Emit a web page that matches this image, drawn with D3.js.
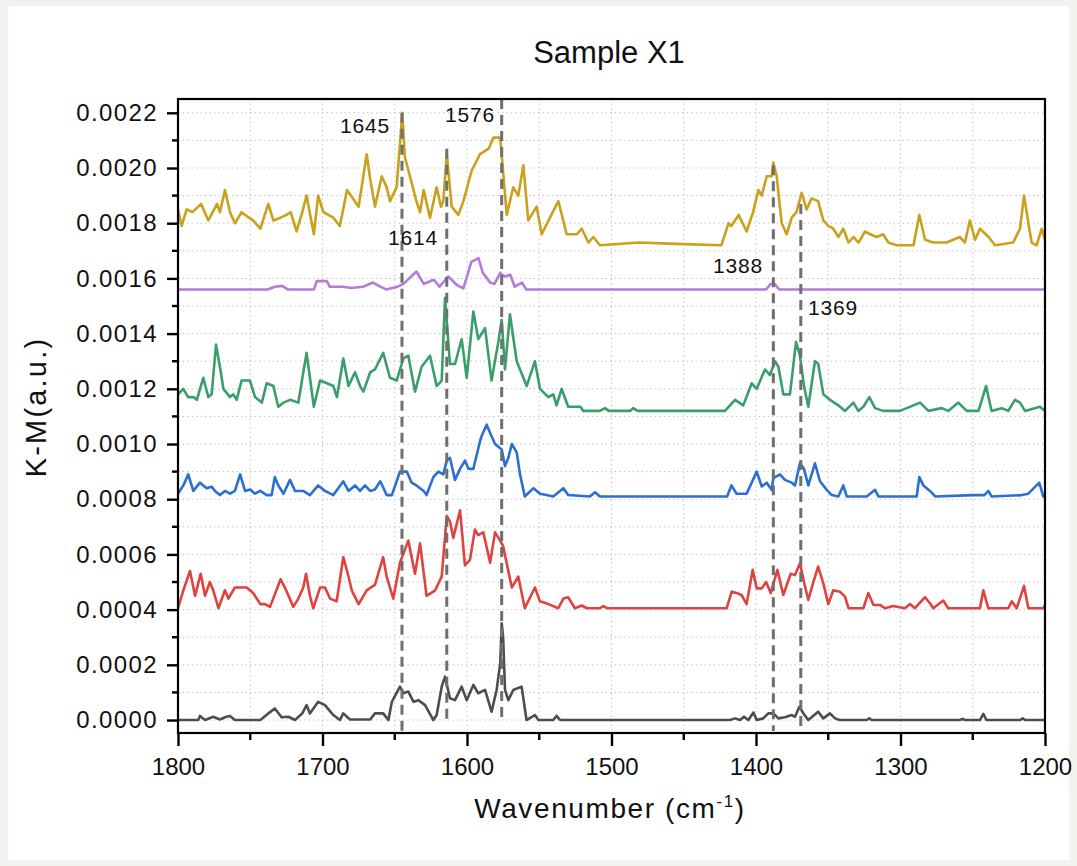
<!DOCTYPE html>
<html lang="en">
<head>
    <meta charset="UTF-8">
    <title>Sample X1</title>
    <script src="https://d3js.org/d3.v7.min.js"></script>
    <style>
        body, html {
            margin: 0;
            padding: 0;
            background: #f3f2ee;
        }
        svg {
            display: block;
        }
        text {
            font-family: "Liberation Sans", Arial, sans-serif;
            fill: #111;
        }
    </style>
</head>
<body>
    <script>
        const width = 1077;
        const height = 866;

        // spectra: [wavenumber, K-M value]
        const goldPts = [
            [1800, .00185], [1797.5, .00179], [1794, .00185], [1790, .00184], [1784, .00187], [1779, .00181],
            [1773, .00187], [1771, .00184], [1767.5, .00192], [1764, .00184], [1760.6, .0018], [1756, .00184],
            [1751, .00182], [1748, .00181], [1743, .00178], [1737.5, .00187], [1734, .00181], [1729, .00182],
            [1725, .00183], [1722, .00184], [1718, .00177], [1714, .00184], [1711, .0019], [1706, .00176],
            [1703, .0019], [1699.4, .00184], [1692.5, .00182], [1688, .00179], [1683, .00192], [1675, .00186],
            [1669.4, .00205], [1667, .00196], [1663.7, .00186], [1659, .00197], [1655.6, .00193], [1653.3, .00188],
            [1648.7, .00193], [1644.8, .0022], [1643, .00204], [1635, .00188], [1632.5, .00184], [1630, .00192],
            [1625.6, .00182], [1621, .00193], [1618, .00186], [1616.4, .00188], [1614, .00205], [1610.6, .00186],
            [1606, .00183], [1602.5, .00188], [1596.8, .00199], [1591, .00205], [1585, .00207], [1581.8, .00211],
            [1577, .00211], [1572.5, .00183], [1568, .00193], [1564.5, .0019], [1561, .00201], [1557.6, .00181],
            [1551.8, .00186], [1548.3, .00176], [1542.6, .00182], [1536.8, .00188], [1531, .00176], [1524, .00176],
            [1520.6, .00178], [1516, .00173], [1512.6, .00175], [1508, .00172], [1481, .00173], [1455, .001725],
            [1424, .00172], [1419, .0018], [1417, .00179], [1412, .00183], [1406.5, .00177], [1402, .00184],
            [1398.4, .00192], [1396, .0019], [1392.6, .00197], [1389.2, .00197], [1388, .00202], [1385.7, .00197],
            [1382.2, .0018], [1378.8, .00176], [1375.3, .00182], [1372, .00184], [1368.4, .00191], [1365, .00185],
            [1361.5, .00189], [1357, .00188], [1353.4, .00181], [1350, .00179], [1346.5, .00178], [1343, .00175],
            [1339.6, .00178], [1336, .00173], [1332.6, .00175], [1329, .00173], [1324.6, .00177], [1321, .00176],
            [1316.5, .00175], [1312, .00176], [1308.4, .00173], [1302.6, .00172], [1291, .00172], [1287, .00183],
            [1283, .00174], [1277.3, .00173], [1268, .00173], [1259, .00175], [1255.4, .00173], [1252, .00181],
            [1248.4, .00174], [1245, .00178], [1239, .00175], [1234.6, .00172], [1222, .00173], [1217.3, .00178],
            [1214.5, .0019], [1211.5, .0018], [1209.2, .00173], [1205.8, .00172], [1202.3, .00178], [1200, .00174]
        ];

        const purplePts = [
            [1800, .00156], [1738, .00156], [1733, .00157], [1728, .001573], [1724, .00156], [1706, .00156],
            [1704, .00159], [1697, .00159], [1695, .00157], [1686, .00157], [1680, .001565], [1672, .00157],
            [1665, .001585], [1660, .00157], [1656, .00156], [1648, .00157], [1644, .00158], [1640, .0016],
            [1635, .001625], [1630, .00158], [1623, .001595], [1619, .00157], [1613, .001607], [1607, .001576],
            [1602.5, .001564], [1597, .00166], [1592, .001673], [1589, .00162], [1584, .001585], [1581, .00158],
            [1577, .00162], [1574, .001607], [1570, .001613], [1567, .00157], [1562, .001585], [1559, .00156],
            [1393, .00156], [1390, .00158], [1387, .00158], [1384, .00156], [1200, .00156]
        ];

        const greenPts = [
            [1800, .00118], [1796.3, .0012], [1793, .00117], [1789.4, .00117], [1787, .00116], [1782.5, .00124],
            [1779, .00117], [1776.7, .00118], [1773.7, .00136], [1771, .00128], [1768.6, .0012], [1764, .00117],
            [1761.7, .00118], [1759.4, .00116], [1756, .00123], [1750.2, .00123], [1746.7, .00117], [1742, .00115],
            [1738.6, .00122], [1734, .00121], [1730.6, .001135], [1727, .00115], [1722.5, .00116], [1716.7, .00115],
            [1713.3, .00126], [1711, .00133], [1708.7, .00124], [1706, .001135], [1701.7, .00123], [1697, .00122],
            [1692.5, .00121], [1690, .00117], [1685.6, .00131], [1682, .00121], [1677.5, .00126], [1674, .00121],
            [1671.7, .00119], [1667, .00126], [1663.7, .00127], [1658, .00133], [1653.3, .00124], [1648.7, .00123],
            [1644, .00131], [1640.6, .00132], [1636, .00119], [1631.4, .00128], [1625.6, .00132], [1621, .00121],
            [1617.5, .00123], [1615.2, .00153], [1611.8, .00129], [1608.3, .00129], [1603.7, .00138], [1600.2, .00124],
            [1595.6, .00148], [1592.2, .00138], [1587.5, .00142], [1583, .00123], [1578.3, .00137], [1576, .00145],
            [1573.7, .00127], [1570.3, .00147], [1565.6, .0013], [1558.7, .00121], [1553, .0013], [1549.5, .0012],
            [1543.7, .00117], [1540.3, .00118], [1538, .00114], [1534.5, .0012], [1530, .001135], [1521.5, .001135],
            [1519.5, .00112], [1508, .00112], [1504.5, .00113], [1502, .00112], [1487, .00112], [1485, .00113],
            [1482, .00112], [1421.5, .00112], [1414.5, .00116], [1408.8, .00114], [1403, .00122], [1399.5, .0012],
            [1393.8, .00127], [1390.3, .00125], [1386.9, .0013], [1384.5, .00128], [1381.1, .00118], [1376.5, .00118],
            [1372.3, .00137], [1369.6, .00132], [1366.8, .00121], [1363.8, .001135], [1359.2, .0013], [1356.9, .00129],
            [1353.4, .00118], [1348.8, .00116], [1343, .00114], [1338.4, .00112], [1332.6, .00115], [1329.2, .00112],
            [1325.7, .001135], [1321.6, .00117], [1317.6, .00113], [1312, .00112], [1300.3, .00112], [1286.5, .00115],
            [1280.7, .00112], [1271.5, .00113], [1267, .00112], [1260, .00115], [1254.2, .00112], [1246, .00112],
            [1240.8, .00121], [1237, .00112], [1230, .00113], [1225.4, .00112], [1220.8, .00116], [1217.3, .00115],
            [1213.8, .00112], [1203.5, .001135], [1200, .00112]
        ];

        const bluePts = [
            [1800, .00082], [1796.3, .00085], [1792.9, .00089], [1789.4, .00083], [1784.8, .00086], [1780.2, .00084],
            [1776.7, .000845], [1774.4, .00083], [1771, .000815], [1767.5, .00083], [1764, .00082], [1760.6, .00083],
            [1757, .00089], [1753.6, .00083], [1750, .000835], [1746.7, .00082], [1743, .00083], [1738.6, .000815],
            [1735.2, .000815], [1733, .00088], [1730.6, .00085], [1727, .00082], [1722.5, .00087], [1719, .00083],
            [1713.3, .00083], [1708.7, .000815], [1703, .00085], [1698.3, .00083], [1692.5, .000815], [1685.6, .000865],
            [1682, .00083], [1677.5, .00085], [1674, .00083], [1670.6, .00085], [1667, .00083], [1663.7, .000835],
            [1660, .000865], [1655.6, .000815], [1652, .000815], [1646.4, .0009], [1641.7, .0009], [1638.3, .00086],
            [1635, .00085], [1630, .00083], [1628, .000815], [1623.3, .00088], [1619.8, .0009], [1616.4, .00089],
            [1614, .00094], [1611.8, .00095], [1608.3, .00087], [1604.8, .00091], [1601.4, .00094], [1599, .00091],
            [1595.6, .00091], [1593.3, .00096], [1591, .00101], [1589.8, .00103], [1586.4, .00107], [1584, .00104],
            [1580.6, .001], [1576, .00098], [1573.7, .00092], [1571.4, .00095], [1569, .001], [1565.6, .00097],
            [1563.3, .00089], [1560, .00081], [1554, .00084], [1549.5, .00082], [1545, .000815], [1540.3, .00081],
            [1533.3, .00084], [1530, .000815], [1515, .00081], [1511.4, .000825], [1508, .00081], [1420, .00081],
            [1417, .00085], [1413.4, .00082], [1406.5, .00082], [1399.5, .0009], [1396, .000846], [1392.6, .00086],
            [1389.2, .000834], [1388, .000876], [1383.4, .00089], [1380, .00087], [1375.3, .00086], [1373, .00085],
            [1369.6, .00093], [1366.8, .00091], [1363.8, .00085], [1359.2, .00093], [1355.7, .000865], [1351, .000834],
            [1347.6, .000815], [1343, .00081], [1339.6, .00085], [1337.2, .00081], [1323.4, .00081], [1317.6, .000834],
            [1315.3, .00081], [1288.8, .00081], [1287, .00088], [1284.2, .00085], [1279.6, .00083], [1276, .00081],
            [1250, .000815], [1242, .000815], [1239.2, .00083], [1237, .00081], [1216, .000815], [1211.5, .00082],
            [1204, .00086], [1201.2, .00081], [1200, .00081]
        ];

        const redPts = [
            [1800, .000405], [1796.3, .00047], [1791.7, .00054], [1788.2, .00045], [1784.3, .00053], [1781.3, .00045],
            [1778, .0005], [1775.6, .00047], [1772, .000405], [1767.5, .00047], [1765.2, .00044], [1760.6, .00048],
            [1756, .00048], [1752.5, .00048], [1748, .00046], [1743, .00042], [1739.8, .00042], [1736.3, .00041],
            [1729, .00051], [1726, .00048], [1720.2, .00041], [1716.7, .00044], [1713.3, .00048], [1711.4, .00053],
            [1708.7, .00045], [1706.4, .000405], [1701.7, .00048], [1698.3, .00048], [1694.8, .00044], [1690.2, .00043],
            [1685.6, .00059], [1682, .00052], [1679.8, .00047], [1675, .00042], [1669.4, .00047], [1663.7, .00049],
            [1658, .00059], [1655.6, .00052], [1651, .00044], [1646.4, .00057], [1640.6, .00065], [1636, .00053],
            [1632.5, .00064], [1628, .00045], [1622, .00047], [1617.5, .00052], [1614, .00074], [1611.8, .00072],
            [1609.5, .00066], [1604.8, .00076], [1601.4, .00056], [1598, .00058], [1594.5, .00069], [1592.2, .00067],
            [1588.7, .00068], [1584, .00057], [1580.6, .00068], [1577, .00065], [1575, .00063], [1569, .00048],
            [1564.5, .00052], [1560, .000405], [1553, .00048], [1549.5, .00043], [1543.7, .00042], [1536.8, .000405],
            [1533.3, .00044], [1530, .000445], [1525.3, .000405], [1520.6, .000415], [1517, .000405], [1508, .000405],
            [1505.7, .000413], [1503, .000405], [1420.3, .000405], [1416.8, .000465], [1413.4, .00046], [1410, .000453],
            [1406.5, .00042], [1402.3, .000544], [1399.5, .000477], [1396, .000477], [1393, .0005], [1389.8, .00046],
            [1385.2, .000544], [1381.1, .000453], [1376, .00053], [1373, .000525], [1369.6, .000568], [1366.8, .0005],
            [1363.8, .000435], [1360.3, .0005], [1357, .000556], [1353.4, .000495], [1350, .00042], [1346.5, .00047],
            [1342, .000465], [1338.4, .000447], [1336, .000405], [1325.7, .000405], [1322.3, .00046], [1318.7, .000417],
            [1314.2, .000417], [1310.8, .000405], [1305, .000413], [1297, .000405], [1293.4, .00042], [1290, .000405],
            [1283, .000445], [1279.6, .000423], [1277.3, .000405], [1270.4, .000433], [1267, .000405], [1245, .000405],
            [1242.7, .00047], [1239.2, .000405], [1225.4, .000405], [1223, .00043], [1219.6, .000405], [1214.5, .000486],
            [1211.5, .000405], [1201.2, .000405], [1200, .000415]
        ];

        const blackPts = [
            [1800, 0], [1786, 0], [1784.8, .000015], [1781.3, 0], [1775.6, .000012], [1771, .000002],
            [1767.5, .00001], [1764, .000015], [1760.6, 0], [1743, 0], [1737.5, .000024], [1733, .000042],
            [1728.3, .00001], [1723.6, .000012], [1719, 0], [1714, .000024], [1711, .000054], [1708.7, .000024],
            [1703, .000066], [1698.3, .000054], [1692.5, .000018], [1688, 0], [1685.6, .000024], [1681, .000002],
            [1667, .000002], [1663.7, .000024], [1658, .000024], [1654.4, 0], [1652, .000066], [1646.4, .000121],
            [1644, .000097], [1640.6, .000103], [1637, .000066], [1633.7, .000072], [1629, .000054], [1623.3, 0],
            [1621, .000018], [1617.5, .000121], [1615.2, .000157], [1611.8, .000079], [1608.3, .000072], [1603.7, .000121],
            [1600.2, .000072], [1595.6, .000127], [1592.2, .000097], [1587.5, .000109], [1583, .00003], [1579.5, .000109],
            [1577, .000205], [1576, .00035], [1575, .0003], [1573.7, .000109], [1571.4, .000072], [1568, .000109],
            [1562.2, .000121], [1558.8, 0], [1553, .000018], [1550.6, 0], [1540.3, 0], [1538, .000015],
            [1535.6, 0], [1418, 0], [1414.5, .000006], [1411, 0], [1408.3, .000012], [1405.3, 0],
            [1401.8, .000027], [1399.5, 0], [1395, .000006], [1391.5, .000024], [1388, .000024], [1384.5, .000006],
            [1380, .00001], [1375.3, .000018], [1373, .000012], [1370, .000048], [1367.2, .000024], [1363.8, 0],
            [1357, .00003], [1353.4, .000006], [1348.8, .000024], [1345.3, .000006], [1342, 0], [1323.4, 0],
            [1321.6, .000006], [1320, 0], [1259, 0], [1257, .000004], [1255.4, 0], [1245, 0],
            [1242.7, .000022], [1240.4, 0], [1217.3, 0], [1215.4, .000006], [1213.8, 0], [1200, 0]
        ];

        // dashed peak markers: wavenumber, top and bottom of the dashed segment
        const peakWn = [1645, 1614, 1576, 1388, 1369];
        const peakTop = [.0022, .00207, .00225, .00201, .00187];
        const peakBottom = [-.00004, -.00001, -.00001, -.00004, -.00004];
        // label anchor (centre wavenumber, baseline value)
        const peakLabelWn = [1670.6, 1637.4, 1597.9, 1412.5, 1346.7];
        const peakLabelVal = [.002127, .001721, .002168, .00162, .001468];

        const xTicks = [1800, 1700, 1600, 1500, 1400, 1300, 1200];
        const xMinor = [1750, 1650, 1550, 1450, 1350, 1250];
        const yTicks = [0, .0002, .0004, .0006, .0008, .0010, .0012, .0014, .0016, .0018, .0020, .0022];
        const yMinor = [.0001, .0003, .0005, .0007, .0009, .0011, .0013, .0015, .0017, .0019, .0021];

        const series = [
            { pts: blackPts, color: "#4d4d4d" },
            { pts: redPts, color: "#e0423f" },
            { pts: bluePts, color: "#2b6fd2" },
            { pts: greenPts, color: "#3a9e6b" },
            { pts: purplePts, color: "#b57bd9" },
            { pts: goldPts, color: "#c9a11c" }
        ];

        const plotLeft = 178, plotRight = 1045, plotTop = 99, plotBottom = 733;

        const x = d3.scaleLinear().domain([1800, 1200]).range([plotLeft, plotRight]);
        const y = d3.scaleLinear().domain([-0.000047, 0.00225]).range([plotBottom, plotTop]);

        const svg = d3.select("body")
            .append("svg")
            .attr("width", width)
            .attr("height", height);

        // white panel
        svg.append("rect")
            .attr("x", 8).attr("y", 6)
            .attr("width", width - 16).attr("height", height - 12)
            .attr("fill", "#fff");

        // dotted grid
        const grid = svg.append("g").attr("stroke", "#c4c4c4").attr("stroke-width", 1)
            .attr("stroke-dasharray", "1.5,3");
        grid.selectAll(".gx").data(xTicks.concat(xMinor).filter(d => d !== 1800 && d !== 1200)).enter()
            .append("line")
            .attr("x1", d => x(d)).attr("x2", d => x(d))
            .attr("y1", plotTop).attr("y2", plotBottom);
        grid.selectAll(".gy").data(yTicks.concat(yMinor)).enter()
            .append("line")
            .attr("x1", plotLeft).attr("x2", plotRight)
            .attr("y1", d => y(d)).attr("y2", d => y(d));

        svg.append("clipPath").attr("id", "plotclip")
            .append("rect")
            .attr("x", plotLeft).attr("y", plotTop)
            .attr("width", plotRight - plotLeft).attr("height", plotBottom - plotTop);

        const line = d3.line()
            .x(d => x(d[0]))
            .y(d => y(d[1]));

        svg.append("g").attr("clip-path", "url(#plotclip)")
            .selectAll("path")
            .data(series)
            .enter()
            .append("path")
            .attr("d", d => line(d.pts))
            .attr("fill", "none")
            .attr("stroke", d => d.color)
            .attr("stroke-width", 2.6)
            .attr("stroke-linejoin", "round");

        // dashed markers
        svg.append("g")
            .selectAll("line")
            .data(peakWn)
            .enter()
            .append("line")
            .attr("x1", d => x(d)).attr("x2", d => x(d))
            .attr("y1", (d, i) => y(peakTop[i]))
            .attr("y2", (d, i) => y(peakBottom[i]))
            .attr("stroke", "#6f6f6f")
            .attr("stroke-width", 3)
            .attr("stroke-dasharray", "10,6");

        svg.append("g")
            .selectAll("text")
            .data(peakWn)
            .enter()
            .append("text")
            .attr("x", (d, i) => x(peakLabelWn[i]))
            .attr("y", (d, i) => y(peakLabelVal[i]))
            .attr("text-anchor", "middle")
            .attr("font-size", "21px")
            .attr("letter-spacing", "0.8px")
            .attr("fill", "#222")
            .text(d => d);

        // frame
        svg.append("rect")
            .attr("x", plotLeft).attr("y", plotTop)
            .attr("width", plotRight - plotLeft).attr("height", plotBottom - plotTop)
            .attr("fill", "none")
            .attr("stroke", "#000")
            .attr("stroke-width", 2.2);

        // axes
        const xAxis = svg.append("g")
            .attr("transform", `translate(0,${plotBottom})`)
            .call(d3.axisBottom(x).tickValues(xTicks).tickFormat(d3.format("d")).tickSize(13).tickPadding(12));
        xAxis.append("g").selectAll("line").data(xMinor).enter()
            .append("line")
            .attr("x1", d => x(d)).attr("x2", d => x(d))
            .attr("y1", 0).attr("y2", 7)
            .attr("stroke", "#000");

        const yAxis = svg.append("g")
            .attr("transform", `translate(${plotLeft},0)`)
            .call(d3.axisLeft(y).tickValues(yTicks).tickFormat(d3.format(".4f")).tickSize(11).tickPadding(10));
        yAxis.append("g").selectAll("line").data(yMinor).enter()
            .append("line")
            .attr("x1", 0).attr("x2", -6)
            .attr("y1", d => y(d)).attr("y2", d => y(d))
            .attr("stroke", "#000");

        [xAxis, yAxis].forEach(a => {
            a.select(".domain").remove();
            a.selectAll("line").attr("stroke", "#000").attr("stroke-width", 2.4);
            a.selectAll("text")
                .attr("font-size", "24px")
                .attr("font-family", "'Liberation Sans', Arial, sans-serif")
                .attr("fill", "#111");
        });
        yAxis.selectAll(".tick text").attr("letter-spacing", "1.4px").attr("dx", "1px");

        // titles
        svg.append("text")
            .attr("x", 609).attr("y", 63)
            .attr("text-anchor", "middle")
            .attr("font-size", "31px")
            .text("Sample X1");

        const xl = svg.append("text")
            .attr("x", 610).attr("y", 818)
            .attr("text-anchor", "middle")
            .attr("font-size", "28px")
            .attr("letter-spacing", "1.6px");
        xl.append("tspan").text("Wavenumber (cm");
        xl.append("tspan").attr("dy", -11).attr("font-size", "17px").text("-1");
        xl.append("tspan").attr("dy", 11).text(")");

        svg.append("text")
            .attr("transform", "translate(46,407) rotate(-90)")
            .attr("text-anchor", "middle")
            .attr("font-size", "29px")
            .attr("letter-spacing", "2.2px")
            .text("K-M(a.u.)");
    </script>
</body>
</html>
